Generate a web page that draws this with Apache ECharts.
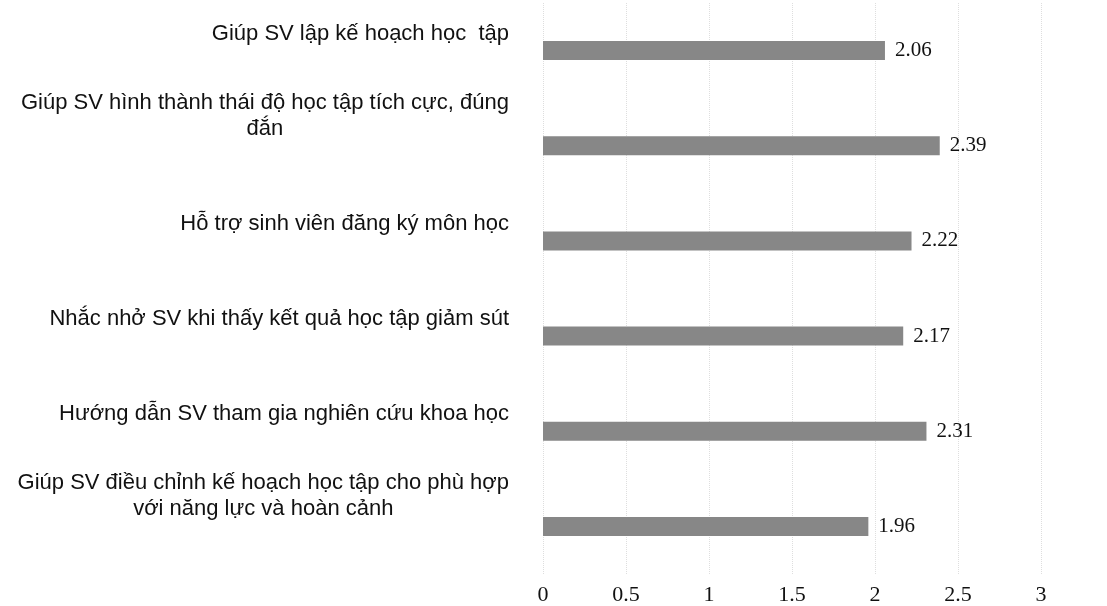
<!DOCTYPE html>
<html>
<head>
<meta charset="utf-8">
<script src="https://cdn.jsdelivr.net/npm/echarts@6/dist/echarts.min.js"></script>
<style>
  html, body { margin: 0; padding: 0; background: #ffffff; }
  #chart { width: 1107px; height: 606px; }
</style>
</head>
<body>
<div id="chart"></div>
<script>
const categories = [
  'Giúp SV lập kế hoạch học  tập',
  'Giúp SV hình thành thái độ học tập tích cực, đúng\nđắn',
  'Hỗ trợ sinh viên đăng ký môn học',
  'Nhắc nhở SV khi thấy kết quả học tập giảm sút',
  'Hướng dẫn SV tham gia nghiên cứu khoa học',
  'Giúp SV điều chỉnh kế hoạch học tập cho phù hợp\nvới năng lực và hoàn cảnh'
];
const values = [2.06, 2.39, 2.22, 2.17, 2.31, 1.96];
const xTickValues = [0, 0.5, 1, 1.5, 2, 2.5, 3];
const xTickLabels = ['0', '0.5', '1', '1.5', '2', '2.5', '3'];

const chart = echarts.init(document.getElementById('chart'));
chart.setOption({
  animation: false,
  backgroundColor: '#ffffff',
  grid: { left: 543, right: 66, top: 3, bottom: 31, containLabel: false },
  xAxis: {
    type: 'value',
    min: 0,
    max: 3,
    interval: 0.5,
    axisLine: { show: false },
    axisTick: { show: false },
    splitLine: { show: true, lineStyle: { type: 'dotted', color: '#dedede', width: 1 } },
    axisLabel: {
      margin: 10,
      fontFamily: 'Liberation Serif',
      fontSize: 22,
      color: '#111',
      formatter: function (v) {
        const i = xTickValues.indexOf(v);
        return i >= 0 ? xTickLabels[i] : '';
      }
    }
  },
  yAxis: {
    type: 'category',
    inverse: true,
    data: categories,
    axisLine: { show: false },
    axisTick: { show: false },
    splitLine: { show: false },
    axisLabel: {
      margin: 34,
      verticalAlign: 'bottom',
      padding: [0, 0, 4, 0],
      formatter: function (v) {
        return v.split('\n').map(function (s) { return '{t|' + s + '}'; }).join('\n');
      },
      rich: {
        t: {
          fontFamily: 'Liberation Sans',
          fontSize: 22,
          lineHeight: 26,
          color: '#111',
          align: 'center'
        }
      }
    }
  },
  series: [{
    type: 'bar',
    data: values,
    barWidth: 19,
    itemStyle: { color: '#878787' },
    label: {
      show: true,
      position: 'right',
      distance: 10,
      fontFamily: 'Liberation Serif',
      fontSize: 21,
      color: '#111',
      formatter: function (p) { return p.value.toFixed(2); }
    }
  }]
});
</script>
</body>
</html>
